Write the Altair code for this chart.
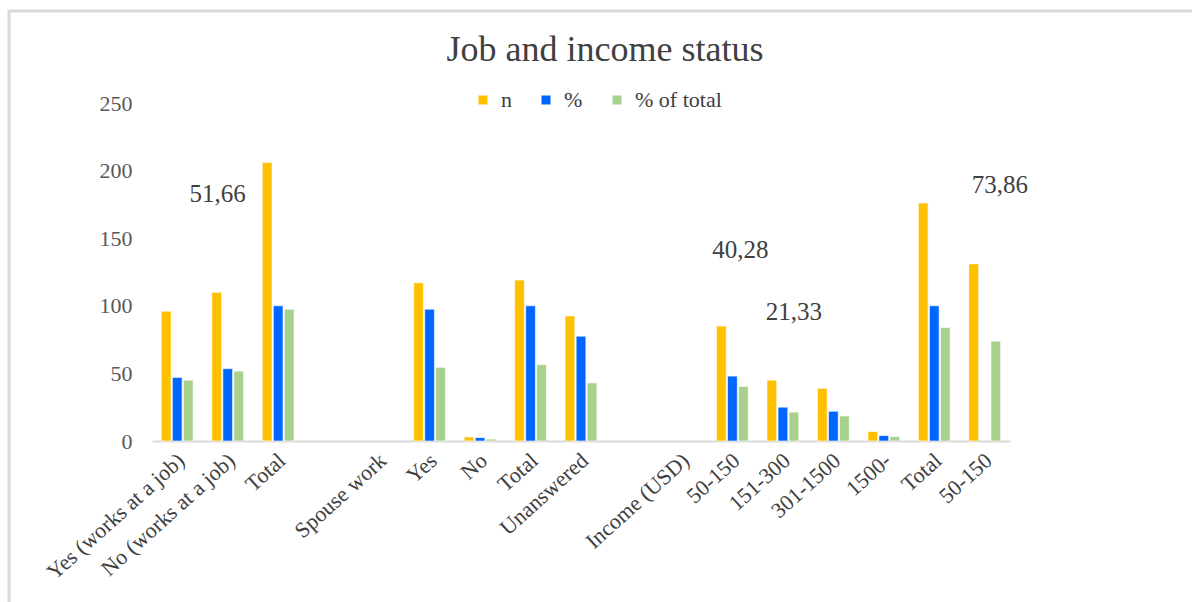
import altair as alt
import pandas as pd

# ---- data ----
categories = ["Yes (works at a job)", "No (works at a job)", "Total", "", "Spouse work",
              "Yes", "No", "Total", "Unanswered", "", "Income (USD)",
              "50-150", "151-300", "301-1500", "1500-", "Total", "50-150"]
series_names = ["n", "%", "% of total"]
n_values = [96, 110, 206, None, None, 117, 3, 119, 92.5, None, None, 85, 45, 39, 7, 176, 131]
pct_values = [47, 53.5, 100, None, None, 97.5, 2.5, 100, 77.5, None, None, 48, 25, 22, 4, 100, None]
pct_total_values = [45, 51.66, 97.4, None, None, 54.5, 1.4, 56.4, 43, None, None, 40.28, 21.33, 18.5, 3.3, 84, 73.86]
colors = ["#FFC000", "#0066FF", "#A9D18E"]
y_ticks = [0, 50, 100, 150, 200, 250]
title_text = "Job and income status"

annot_labels = ["51,66", "40,28", "21,33", "73,86"]
annot_slots = [1, 11, 12, 16]
annot_y = [183, 141, 95.4, 189]
annot_dx = [-10, 8, 11, 15]

FONT = "Liberation Serif"
keys = [str(i) for i in range(len(categories))]

rows = []
for name, vals in zip(series_names, [n_values, pct_values, pct_total_values]):
    for k, v in zip(keys, vals):
        if v is not None:
            rows.append({"slot": k, "series": name, "value": v})
df = pd.DataFrame(rows)

label_array = "[" + ",".join("'" + c + "'" for c in categories) + "]"

x_enc = alt.X("slot:N", sort=keys,
              scale=alt.Scale(domain=keys, paddingInner=0.37, paddingOuter=0.185),
              axis=alt.Axis(title=None, labelExpr=label_array + "[toNumber(datum.value)]",
                            labelAngle=-42, labelAlign="right", labelBaseline="middle",
                            labelFont=FONT, labelFontSize=22, labelColor="#404040",
                            labelPadding=16, labelOffset=4, ticks=False,
                            domainColor="#d9d9d9", domainWidth=2,
                            labelOverlap=False, labelLimit=400))
y_scale = alt.Scale(domain=[0, 250], nice=False)

bars = alt.Chart(df).mark_bar(stroke="white", strokeWidth=0.6).encode(
    x=x_enc,
    xOffset=alt.XOffset("series:N", sort=series_names,
                        scale=alt.Scale(domain=series_names, paddingInner=0.12)),
    y=alt.Y("value:Q", scale=y_scale,
            axis=alt.Axis(title=None, values=y_ticks, grid=False, domain=False, ticks=False,
                          tickSize=0, labelFont=FONT, labelFontSize=22,
                          labelColor="#595959", labelPadding=20)),
    color=alt.Color("series:N", sort=series_names,
                    scale=alt.Scale(domain=series_names, range=colors),
                    legend=alt.Legend(title=None, orient="none", legendX=320, legendY=-14,
                                      direction="horizontal", symbolType="square",
                                      symbolSize=81, symbolStrokeWidth=0,
                                      labelFont=FONT, labelFontSize=22,
                                      labelColor="#404040", columnPadding=23,
                                      labelOffset=7)),
)

layers = [bars]
for lab, s, yv, dx in zip(annot_labels, annot_slots, annot_y, annot_dx):
    adf = pd.DataFrame({"slot": [keys[s]], "value": [yv], "label": [lab]})
    layers.append(
        alt.Chart(adf).mark_text(font=FONT, fontSize=25, color="#404040", dx=dx,
                                 align="center", baseline="middle").encode(
            x=alt.X("slot:N", sort=keys, scale=alt.Scale(domain=keys)),
            y=alt.Y("value:Q", scale=y_scale),
            text="label:N")
    )

one = pd.DataFrame({"a": [0]})
# chart title drawn as text
title_mark = alt.Chart(one).mark_text(font=FONT, fontSize=36, color="#404040",
                                      align="center", baseline="alphabetic").encode(
    x=alt.value(453), y=alt.value(-42), text=alt.value(title_text))

# light grey frame around the chart (decoration)
frame_top = alt.Chart(one).mark_rule(color="#d9d9d9", strokeWidth=3).encode(
    x=alt.value(-143), x2=alt.value(1060), y=alt.value(-92))
frame_left = alt.Chart(one).mark_rule(color="#d9d9d9", strokeWidth=3).encode(
    x=alt.value(-143), y=alt.value(-93), y2=alt.value(520))
layers += [title_mark, frame_top, frame_left]

chart = alt.layer(*layers).properties(
    width=858, height=338,
    padding={"left": 152, "top": 103, "right": 182, "bottom": 161},
    autosize=alt.AutoSizeParams(type="none"),
    background="white",
).configure_view(stroke=None)

chart.save("out.html", embed_options={"renderer": "svg", "actions": False})
